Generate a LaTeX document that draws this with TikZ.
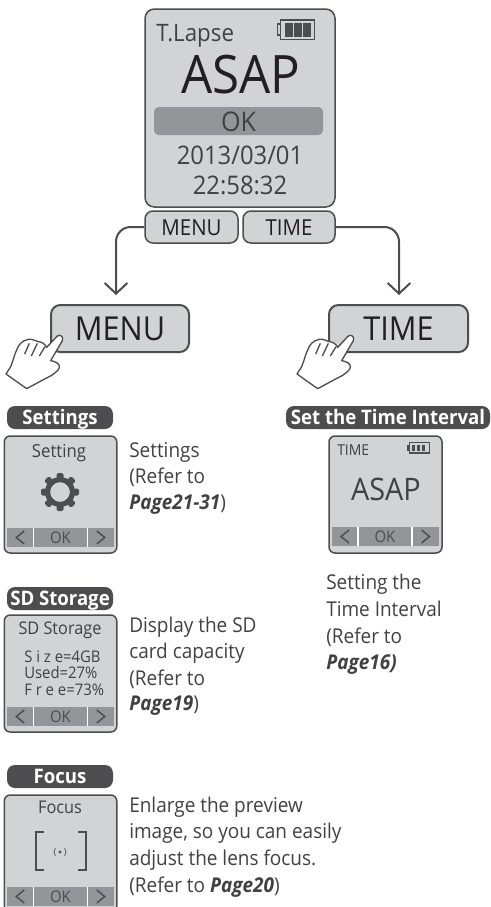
\documentclass[tikz,border=0pt]{standalone}
\usepackage{fontspec}
\setmainfont[FakeStretch=0.93]{Open Sans}
\usetikzlibrary{arrows.meta}
\definecolor{dk}{HTML}{4D4D4F}
\definecolor{txt}{HTML}{414042}
\definecolor{ink}{HTML}{231F20}
\definecolor{scr}{HTML}{D1D3D4}
\definecolor{barc}{HTML}{939598}
\newcommand{\fs}[1]{\fontsize{\dimexpr#1\dimexpr0.75pt\relax\relax}{\dimexpr#1\dimexpr0.9pt\relax\relax}\selectfont}
\tikzset{
  x=0.75pt,y=-0.75pt,
  screen/.style={draw=dk,fill=scr,line width=1.5*0.75pt,rounded corners=6pt,inner sep=0pt},
  btn/.style={screen,align=center,text=ink},
  tag/.style={fill=dk,rounded corners=6pt,inner sep=0pt,text=white,font=\bfseries\fs{20},minimum width=106*0.75pt,minimum height=23*0.75pt,text height=10.7pt,text depth=0pt},
  lbl/.style={inner sep=0pt,text=txt,anchor=base},
  body/.style={inner sep=0pt,text=txt,anchor=base west,font=\fs{20.4}},
  conn/.style={draw=dk,line width=1.5pt,rounded corners=11pt,-{Straight Barb[length=8pt,width=17pt,line width=1.5pt]}},
  barbg/.style={fill=barc,draw=none},
  sep/.style={draw=white,line width=0.8pt},
  chev/.style={draw=dk,line width=1.1pt},
  hand/.style={draw=dk,fill=white,line width=1pt,line join=round},
}
% x-positions: left, sep1, sep2, right, top, bottom
\newcommand{\softbar}[6]{%
  \fill[barbg] (#1,#5) rectangle (#4,#6);
  \draw[sep] (#2,#5) -- (#2,#6);
  \draw[sep] (#3,#5) -- (#3,#6);
  \draw[chev] ({(#1+#2)/2+4},{#5+3}) -- ({(#1+#2)/2-4},{(#5+#6)/2}) -- ({(#1+#2)/2+4},{#6-3});
  \draw[chev] ({(#3+#4)/2-4},{#5+3}) -- ({(#3+#4)/2+4},{(#5+#6)/2}) -- ({(#3+#4)/2-4},{#6-3});
  \node[lbl,font=\fs{16},text=dk] at ({(#2+#3)/2},{#6-4}) {OK};
}
% hand, shifted by x offset
\newcommand{\handshape}[1]{%
  \begin{scope}[shift={(#1,230)},x=0.25pt,y=-0.25pt]
  \path[hand] (172,318) .. controls (180,312) and (192,320) .. (187,332)
    -- (152,392) .. controls (165,394) and (180,400) .. (178,412)
    .. controls (176,422) and (165,428) .. (155,436)
    -- (132,448) -- (80,476) -- (18,432) -- (32,410)
    .. controls (40,390) and (44,372) .. (50,360)
    .. controls (55,345) and (65,332) .. (85,328)
    .. controls (95,326) and (105,332) .. (115,335)
    .. controls (125,335) and (135,342) .. (140,352) -- cycle;
  \draw[hand,fill=none] (74,372) -- (88,340) (94,378) -- (112,340) (118,378) -- (135,350);
  \end{scope}}
\begin{document}
\begin{tikzpicture}
\useasboundingbox (0,0) rectangle (490,907);
% main screen
\node[screen,rounded corners=7pt,minimum width=190*0.75pt,minimum height=198*0.75pt] (main) at (240,108) {};
\node[lbl,anchor=base west,font=\fs{24}] (tl) at (156,41) {T.Lapse};
\node[lbl,font=\fs{53},text=ink] (asap) at (241,93) {ASAP};
\node[fill=barc,rounded corners=3.5pt,minimum width=169*0.75pt,minimum height=28*0.75pt,inner sep=0pt,text=txt,font=\fs{27},text height=15pt,text depth=0pt] (ok) at (238.5,121) {OK};
\node[lbl,font=\fs{25.6}] (date) at (240,164) {2013/03/01};
\node[lbl,font=\fs{25.6}] (time) at (240,194) {22:58:32};
% battery
\draw[dk,line width=0.8pt] (280.5,20) rectangle (314.5,39.5);
\draw[dk,line width=0.8pt] (280.5,24) -- (277.5,24) -- (277.5,35) -- (280.5,35);
\foreach \xx in {286,295,304}{\fill[dk] (\xx-1,23) rectangle (\xx+7,36.5);}
% small buttons
\node[btn,minimum width=93*0.75pt,minimum height=32*0.75pt,font=\fs{22},text height=12pt,text depth=0pt] (smenu) at (191.5,227) {MENU};
\node[btn,minimum width=92*0.75pt,minimum height=32*0.75pt,font=\fs{22},text height=12pt,text depth=0pt] (stime) at (289,227) {TIME};
% big buttons
\node[btn,minimum width=138*0.75pt,minimum height=47*0.75pt,line width=1.5pt,font=\fs{33},text height=17.25pt,text depth=0pt,rounded corners=7pt] (bmenu) at (120,328.5) {MENU};
\node[btn,minimum width=139*0.75pt,minimum height=47*0.75pt,line width=1.5pt,font=\fs{33},text height=17.25pt,text depth=0pt,rounded corners=7pt] (btime) at (398.5,328.5) {TIME};
% connectors
\coordinate (tipl) at (116,295);
\coordinate (tipr) at (399,295);
\path[conn] (smenu.west) -| (tipl);
\path[conn] (stime.east) -| (tipr);
\handshape{0}
\handshape{291}
% Settings
\node[tag] (t1) at (60,417.5) {Settings};
\node[screen,minimum width=112.5*0.75pt,minimum height=117*0.75pt,rounded corners=4.5pt] (s1) at (60.5,494.5) {};
\node[lbl,font=\fs{18}] (s1t) at (59,457) {Setting};
\softbar{7}{33.5}{87.5}{114}{528}{547}
% gear
\draw[dk,line width=3.8pt] (60,492) circle (12.5);
\foreach \a in {0,45,...,315}{\fill[dk,rotate around={\a:(60,492)},rounded corners=1.2pt] (56.5,473) rectangle (63.5,482);}
\node[body] (b1a) at (129,457) {Settings};
\node[body] (b1b) at (129,483) {(Refer to};
\node[body] (b1c) at (129,509) {\textbf{\textit{Page21-31}})};
% Time
\node[tag,minimum width=204*0.75pt] (t2) at (388,417.5) {Set the Time Interval};
\node[screen,minimum width=113*0.75pt,minimum height=117*0.75pt,rounded corners=4.5pt] (s2) at (385.5,494.5) {};
\node[lbl,anchor=base west,font=\fs{15}] (s2t) at (337,455) {TIME};
\node[lbl,font=\fs{31}] (s2a) at (386,500) {ASAP};
\softbar{332}{358}{412}{439}{527}{546}
\draw[dk,line width=0.8pt] (409.5,442.5) rectangle (429.5,453);
\fill[dk] (407,445) rectangle (409.5,451);
\foreach \xx in {412,417,422}{\fill[dk] (\xx,444.5) rectangle (\xx+3,451);}
\node[body] (b2a) at (326,589) {Setting the};
\node[body] (b2b) at (326,616) {Time Interval};
\node[body] (b2c) at (326,643) {(Refer to};
\node[body] (b2d) at (326,669) {\textbf{\textit{Page16)}}};
% SD
\node[tag] (t3) at (60,598.5) {SD Storage};
\node[screen,minimum width=112.5*0.75pt,minimum height=117*0.75pt,rounded corners=4.5pt] (s3) at (60.5,673.5) {};
\node[lbl,font=\fs{17.5}] (s3t) at (60,634) {SD Storage};
\node[lbl,anchor=base west,font=\fs{16}] (s3a) at (24,662) {S i z e=4GB};
\node[lbl,anchor=base west,font=\fs{16}] (s3b) at (24,678) {Used=27\%};
\node[lbl,anchor=base west,font=\fs{16}] (s3c) at (24,695) {F r e e=73\%};
\softbar{7}{33.5}{87.5}{114}{707}{726}
\node[body] (b3a) at (129,632) {Display the SD};
\node[body] (b3b) at (129,658) {card capacity};
\node[body] (b3c) at (129,685) {(Refer to};
\node[body] (b3d) at (129,710) {\textbf{\textit{Page19}})};
% Focus
\node[tag] (t4) at (60,776.5) {Focus};
\node[screen,minimum width=112.5*0.75pt,minimum height=117*0.75pt,rounded corners=4.5pt] (s4) at (60.5,853.5) {};
\node[lbl,font=\fs{17.5}] (s4t) at (60,813) {Focus};
\softbar{7}{33.5}{87.5}{114}{887}{906}
\draw[dk,line width=1.3pt] (44,832) -- (36,832) -- (36,870) -- (44,870);
\draw[dk,line width=1.3pt] (78,832) -- (86,832) -- (86,870) -- (78,870);
\fill[dk] (60,852) circle (1.6);
\draw[dk,line width=0.5pt] (60,852) ++(40:6) arc (40:-40:6);
\draw[dk,line width=0.5pt] (60,852) ++(140:6) arc (140:220:6);
\node[body] (b4a) at (129,812) {Enlarge the preview};
\node[body] (b4b) at (129,838) {image, so you can easily};
\node[body] (b4c) at (129,865) {adjust the lens focus.};
\node[body] (b4d) at (129,892) {(Refer to \textbf{\textit{Page20}})};
\end{tikzpicture}
\end{document}
